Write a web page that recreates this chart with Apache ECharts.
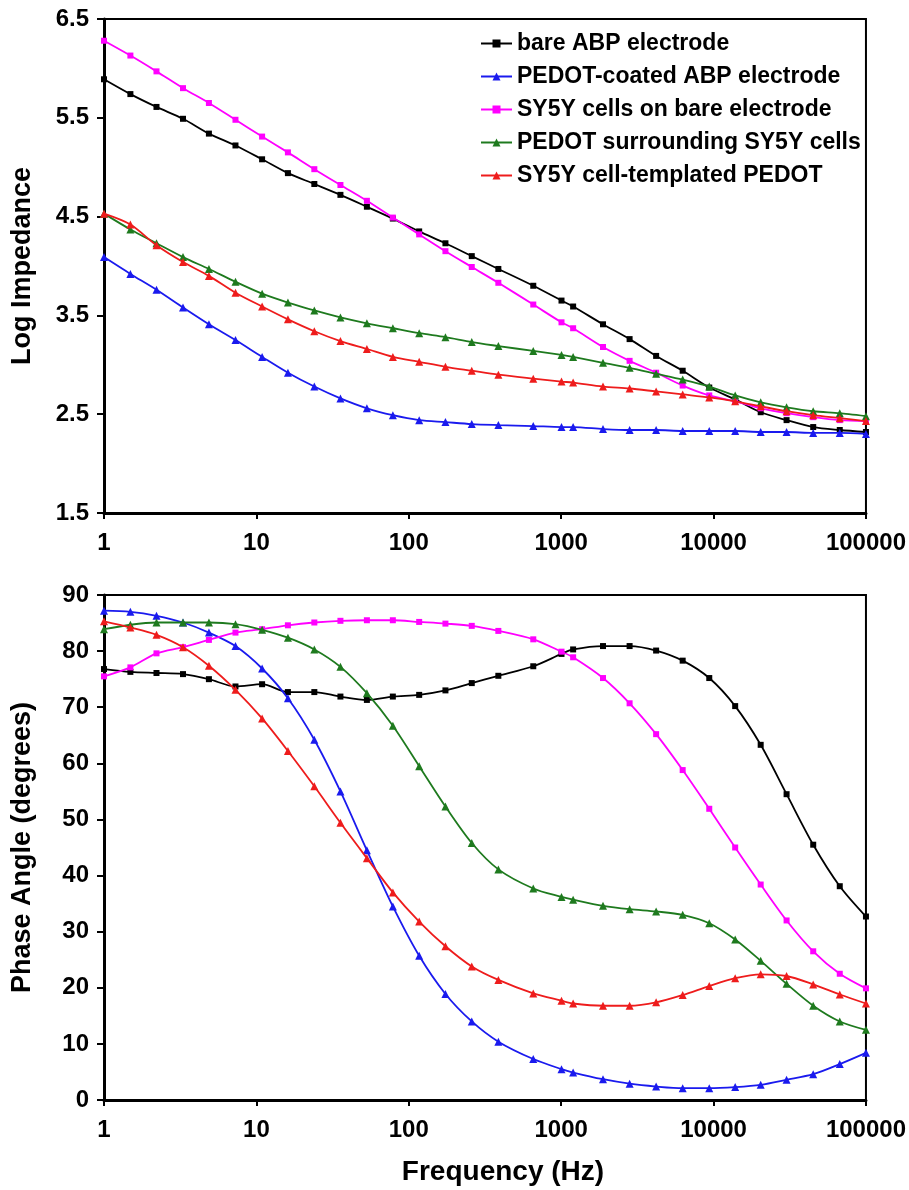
<!DOCTYPE html>
<html>
<head>
<meta charset="utf-8">
<script src="https://cdn.jsdelivr.net/npm/echarts@6/dist/echarts.min.js"></script>
<style>
html,body{margin:0;padding:0;background:#fff;}
#chart{width:909px;height:1190px;}
</style>
</head>
<body>
<div id="chart"></div>
<script>
// ---- data ----
const freqs = [1, 1.49, 2.21, 3.3, 4.88, 7.29, 10.9, 16.1, 24, 35.6, 53.1, 78.6, 117, 174, 259, 387, 656, 1005, 1198, 1882, 2812, 4198, 6270, 9370, 13860, 20380, 30140, 45070, 67320, 100000];
const seriesNames = ['bare ABP electrode', 'PEDOT-coated ABP electrode', 'SY5Y cells on bare electrode', 'PEDOT surrounding SY5Y cells', 'SY5Y cell-templated PEDOT'];

const impBare     = [5.89, 5.74, 5.61, 5.49, 5.34, 5.22, 5.08, 4.94, 4.83, 4.72, 4.60, 4.48, 4.35, 4.23, 4.10, 3.97, 3.80, 3.65, 3.59, 3.41, 3.26, 3.09, 2.94, 2.77, 2.65, 2.52, 2.44, 2.37, 2.34, 2.32];
const impPedot    = [4.09, 3.92, 3.76, 3.58, 3.41, 3.25, 3.08, 2.92, 2.78, 2.66, 2.56, 2.49, 2.44, 2.42, 2.40, 2.39, 2.38, 2.37, 2.37, 2.35, 2.34, 2.34, 2.33, 2.33, 2.33, 2.32, 2.32, 2.31, 2.31, 2.30];
const impCells    = [6.28, 6.13, 5.97, 5.80, 5.65, 5.48, 5.31, 5.15, 4.98, 4.82, 4.66, 4.49, 4.32, 4.15, 3.99, 3.83, 3.61, 3.43, 3.37, 3.18, 3.04, 2.92, 2.79, 2.69, 2.63, 2.56, 2.51, 2.47, 2.44, 2.43];
const impSurround = [4.53, 4.37, 4.23, 4.09, 3.97, 3.84, 3.72, 3.63, 3.55, 3.48, 3.42, 3.37, 3.32, 3.28, 3.23, 3.19, 3.14, 3.10, 3.08, 3.02, 2.97, 2.91, 2.85, 2.78, 2.69, 2.62, 2.57, 2.53, 2.51, 2.48];
const impTemplate = [4.53, 4.42, 4.21, 4.04, 3.90, 3.73, 3.59, 3.46, 3.34, 3.24, 3.16, 3.08, 3.03, 2.98, 2.94, 2.90, 2.86, 2.83, 2.82, 2.78, 2.76, 2.73, 2.70, 2.67, 2.63, 2.58, 2.53, 2.49, 2.46, 2.43];

const phBare     = [76.8, 76.3, 76.1, 75.9, 75.0, 73.7, 74.1, 72.7, 72.7, 71.9, 71.3, 71.9, 72.2, 73.0, 74.3, 75.6, 77.3, 79.5, 80.3, 80.9, 80.9, 80.1, 78.3, 75.2, 70.2, 63.3, 54.5, 45.5, 38.1, 32.7];
const phPedot    = [87.2, 87.0, 86.3, 85.1, 83.3, 80.9, 76.9, 71.6, 64.2, 55.0, 44.5, 34.5, 25.7, 18.9, 14.0, 10.4, 7.3, 5.5, 4.9, 3.7, 2.9, 2.4, 2.1, 2.1, 2.3, 2.7, 3.6, 4.6, 6.4, 8.4];
const phCells    = [75.5, 77.1, 79.6, 80.7, 82.0, 83.3, 83.9, 84.6, 85.1, 85.4, 85.5, 85.5, 85.2, 84.9, 84.5, 83.6, 82.1, 79.9, 78.9, 75.2, 70.7, 65.2, 58.8, 51.9, 45.0, 38.4, 32.0, 26.5, 22.5, 19.9];
const phSurround = [83.9, 84.7, 85.1, 85.1, 85.1, 84.8, 83.8, 82.4, 80.3, 77.2, 72.5, 66.7, 59.5, 52.3, 45.8, 41.1, 37.7, 36.2, 35.7, 34.6, 34.0, 33.6, 33.0, 31.5, 28.6, 24.8, 20.7, 16.8, 14.0, 12.5];
const phTemplate = [85.3, 84.2, 82.9, 80.7, 77.4, 73.1, 68.0, 62.2, 55.9, 49.4, 43.1, 37.0, 31.8, 27.4, 23.8, 21.4, 19.0, 17.7, 17.2, 16.8, 16.8, 17.4, 18.7, 20.3, 21.7, 22.4, 22.1, 20.6, 18.8, 17.2];

const impTicks = [1.5, 2.5, 3.5, 4.5, 5.5, 6.5];
const phaseTicks = [0, 10, 20, 30, 40, 50, 60, 70, 80, 90];

// ---- styles ----
const colors = ['#000000', '#1a1aee', '#ff00ff', '#1e7a1e', '#ee1c1c'];
const symbols = ['rect', 'triangle', 'rect', 'triangle', 'triangle'];
const symSizes = [6, 8, 6, 8, 8];
const FONT = '"Liberation Sans", Arial, sans-serif';

const impSets = [impBare, impPedot, impCells, impSurround, impTemplate];
const phSets = [phBare, phPedot, phCells, phSurround, phTemplate];

function pairs(vals) { return freqs.map((f, i) => [f, vals[i]]); }

const series = [];
impSets.forEach((vals, k) => {
  series.push({
    name: seriesNames[k], type: 'line', xAxisIndex: 0, yAxisIndex: 0,
    data: pairs(vals), smooth: 0.3, symbol: symbols[k], symbolSize: symSizes[k],
    lineStyle: { color: colors[k], width: 1.8 }, itemStyle: { color: colors[k] },
    z: 3 + k, animation: false
  });
});
phSets.forEach((vals, k) => {
  series.push({
    name: seriesNames[k], type: 'line', xAxisIndex: 1, yAxisIndex: 1,
    data: pairs(vals), smooth: 0.3, symbol: symbols[k], symbolSize: symSizes[k],
    lineStyle: { color: colors[k], width: 1.8 }, itemStyle: { color: colors[k] },
    z: 3 + k, animation: false
  });
});

function xAxis(gridIndex, withName) {
  const ax = {
    type: 'log', logBase: 10, gridIndex: gridIndex, min: 1, max: 100000,
    axisLine: { show: true, onZero: false, lineStyle: { color: '#000', width: 3 } },
    axisTick: { show: true, length: 6, lineStyle: { color: '#000', width: 2 } },
    minorTick: { show: false },
    splitLine: { show: false },
    axisLabel: { color: '#000', fontFamily: FONT, fontWeight: 'bold', fontSize: 24, margin: 18,
      formatter: v => String(Math.round(v)) }
  };
  if (withName) {
    ax.name = 'Frequency (Hz)';
    ax.nameLocation = 'middle';
    ax.nameGap = 58;
    ax.nameTextStyle = { color: '#000', fontFamily: FONT, fontWeight: 'bold', fontSize: 28, padding: [0, 0, 0, 36] };
  }
  return ax;
}

function yAxis(gridIndex, min, max, interval, ticks, name) {
  return {
    type: 'value', gridIndex: gridIndex, min: min, max: max, interval: interval,
    name: name, nameLocation: 'middle', nameGap: 68,
    nameTextStyle: { color: '#000', fontFamily: FONT, fontWeight: 'bold', fontSize: 27 },
    axisLine: { show: true, onZero: false, lineStyle: { color: '#000', width: 3 } },
    axisTick: { show: true, length: 7, customValues: ticks, lineStyle: { color: '#000', width: 2 } },
    splitLine: { show: false },
    axisLabel: { color: '#000', fontFamily: FONT, fontWeight: 'bold', fontSize: 24, margin: 15,
      customValues: ticks, formatter: v => (gridIndex === 0 ? Number(v).toFixed(1) : String(Math.round(v))) }
  };
}

const option = {
  backgroundColor: '#fff',
  animation: false,
  grid: [
    { left: 104, top: 19, width: 765, height: 494, show: true, borderColor: '#000', borderWidth: 2, backgroundColor: 'transparent' },
    { left: 104, top: 595, width: 767, height: 505, show: true, borderColor: '#000', borderWidth: 2, backgroundColor: 'transparent' }
  ],
  legend: {
    data: seriesNames, orient: 'vertical', left: 480, top: 32, padding: 0,
    itemWidth: 31, itemHeight: 10, itemGap: 10,
    textStyle: { color: '#000', fontFamily: FONT, fontWeight: 'bold', fontSize: 23, lineHeight: 23 }
  },
  xAxis: [xAxis(0, false), xAxis(1, true)],
  yAxis: [
    yAxis(0, 1.5, 6.5, 0.5, impTicks, 'Log Impedance'),
    yAxis(1, 0, 90, 10, phaseTicks, 'Phase Angle (degrees)')
  ],
  series: series
};

const chart = echarts.init(document.getElementById('chart'), null, { renderer: 'canvas' });
chart.setOption(option);
</script>
</body>
</html>
